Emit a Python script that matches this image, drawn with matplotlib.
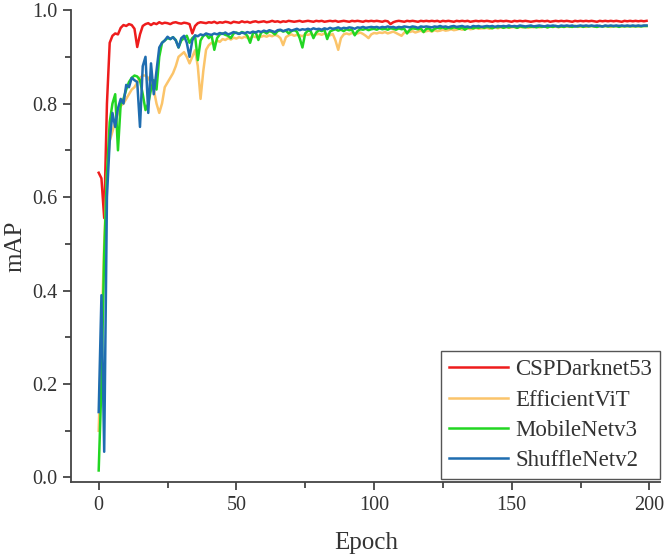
import matplotlib.pyplot as plt

labels = ['CSPDarknet53', 'EfficientViT', 'MobileNetv3', 'ShuffleNetv2']
colors = ['#ee1c1c', '#fbc46a', '#22d622', '#1f6db0']

csp = [
    0.652, 0.640, 0.555, 0.800, 0.930, 0.945, 0.950, 0.948, 0.962, 0.968,
    0.966, 0.970, 0.968, 0.960, 0.921, 0.948, 0.966, 0.970, 0.972, 0.968,
    0.972, 0.970, 0.974, 0.971, 0.973, 0.972, 0.970, 0.973, 0.974, 0.972,
    0.971, 0.973, 0.972, 0.970, 0.950, 0.966, 0.972, 0.974, 0.973, 0.972,
    0.974, 0.973, 0.975, 0.972, 0.974, 0.973, 0.975, 0.974, 0.972, 0.975,
    0.974, 0.973, 0.976, 0.974, 0.975, 0.973, 0.975, 0.976, 0.974, 0.975,
    0.976, 0.974, 0.975, 0.977, 0.975, 0.976, 0.974, 0.976, 0.975, 0.977,
    0.976, 0.975, 0.976, 0.977, 0.975, 0.976, 0.977, 0.976, 0.975, 0.977,
    0.976, 0.977, 0.975, 0.976, 0.977, 0.976, 0.977, 0.975, 0.976, 0.977,
    0.976, 0.975, 0.977, 0.976, 0.977, 0.976, 0.975, 0.977, 0.976, 0.977,
    0.976, 0.977, 0.976, 0.975, 0.977, 0.976, 0.970, 0.974, 0.976, 0.977,
    0.976, 0.975, 0.977, 0.976, 0.977, 0.976, 0.975, 0.977, 0.976, 0.977,
    0.976, 0.977, 0.976, 0.977, 0.975, 0.977, 0.976, 0.977, 0.976, 0.975,
    0.977, 0.976, 0.977, 0.976, 0.977, 0.975, 0.976, 0.977, 0.976, 0.977,
    0.976, 0.977, 0.976, 0.975, 0.977, 0.976, 0.977, 0.976, 0.977, 0.976,
    0.975, 0.977, 0.976, 0.977, 0.976, 0.977, 0.976, 0.975, 0.976, 0.977,
    0.976, 0.977, 0.976, 0.977, 0.975, 0.976, 0.977, 0.976, 0.977, 0.976,
    0.977, 0.976, 0.975, 0.977, 0.976, 0.977, 0.976, 0.977, 0.976, 0.977,
    0.976, 0.975, 0.977, 0.976, 0.977, 0.976, 0.977, 0.976, 0.977, 0.976,
    0.975, 0.977, 0.976, 0.977, 0.976, 0.977, 0.976, 0.977, 0.976, 0.977,
]

effvit = [
    0.100, 0.300, 0.500, 0.650, 0.720, 0.740, 0.760, 0.780, 0.795, 0.800,
    0.810, 0.820, 0.830, 0.835, 0.845, 0.855, 0.860, 0.860, 0.855, 0.845,
    0.830, 0.800, 0.780, 0.800, 0.835, 0.845, 0.855, 0.865, 0.880, 0.900,
    0.905, 0.910, 0.900, 0.886, 0.900, 0.914, 0.880, 0.810, 0.870, 0.915,
    0.925, 0.930, 0.928, 0.935, 0.932, 0.938, 0.936, 0.940, 0.937, 0.941,
    0.939, 0.942, 0.940, 0.943, 0.941, 0.940, 0.944, 0.942, 0.945, 0.943,
    0.945, 0.943, 0.946, 0.944, 0.947, 0.945, 0.940, 0.925, 0.942, 0.946,
    0.948, 0.945, 0.947, 0.946, 0.944, 0.948, 0.947, 0.949, 0.946, 0.948,
    0.949, 0.947, 0.950, 0.948, 0.946, 0.949, 0.935, 0.915, 0.940, 0.948,
    0.950, 0.948, 0.951, 0.949, 0.950, 0.952, 0.949, 0.945, 0.940, 0.948,
    0.951, 0.950, 0.952, 0.951, 0.953, 0.950, 0.952, 0.954, 0.951, 0.948,
    0.945, 0.952, 0.954, 0.953, 0.955, 0.952, 0.954, 0.956, 0.953, 0.955,
    0.956, 0.954, 0.957, 0.955, 0.956, 0.958, 0.956, 0.957, 0.959, 0.957,
    0.958, 0.960, 0.958, 0.959, 0.961, 0.959, 0.960, 0.962, 0.960, 0.961,
    0.961, 0.962, 0.960, 0.962, 0.963, 0.961, 0.963, 0.962, 0.964, 0.962,
    0.963, 0.964, 0.962, 0.964, 0.963, 0.964, 0.962, 0.964, 0.963, 0.965,
    0.963, 0.964, 0.965, 0.963, 0.965, 0.964, 0.965, 0.963, 0.965, 0.964,
    0.965, 0.964, 0.965, 0.966, 0.964, 0.965, 0.966, 0.964, 0.965, 0.966,
    0.965, 0.964, 0.966, 0.965, 0.966, 0.965, 0.964, 0.966, 0.965, 0.966,
    0.965, 0.966, 0.965, 0.966, 0.965, 0.966, 0.965, 0.966, 0.966, 0.966,
]

mobilenet = [
    0.015, 0.200, 0.480, 0.650, 0.760, 0.800, 0.820, 0.700, 0.800, 0.810,
    0.830, 0.846, 0.855, 0.860, 0.858, 0.850, 0.820, 0.786, 0.800, 0.830,
    0.850, 0.830, 0.900, 0.930, 0.935, 0.940, 0.938, 0.942, 0.936, 0.920,
    0.935, 0.940, 0.945, 0.930, 0.940, 0.945, 0.893, 0.935, 0.945, 0.948,
    0.940, 0.946, 0.915, 0.940, 0.948, 0.950, 0.947, 0.945, 0.940, 0.950,
    0.952, 0.949, 0.953, 0.951, 0.945, 0.930, 0.950, 0.953, 0.936, 0.952,
    0.954, 0.950, 0.955, 0.953, 0.948, 0.955, 0.957, 0.954, 0.956, 0.950,
    0.955, 0.957, 0.954, 0.940, 0.920, 0.950, 0.956, 0.955, 0.940, 0.952,
    0.957, 0.955, 0.958, 0.938, 0.954, 0.957, 0.959, 0.956, 0.958, 0.955,
    0.959, 0.957, 0.958, 0.946, 0.955, 0.959, 0.958, 0.960, 0.957, 0.959,
    0.960, 0.958, 0.961, 0.959, 0.960, 0.958, 0.961, 0.960, 0.958, 0.961,
    0.959, 0.960, 0.950, 0.958, 0.961, 0.960, 0.959, 0.961, 0.953, 0.960,
    0.961, 0.955, 0.960, 0.962, 0.961, 0.963, 0.960, 0.962, 0.961, 0.963,
    0.962, 0.960, 0.963, 0.958, 0.962, 0.963, 0.961, 0.963, 0.962, 0.964,
    0.962, 0.964, 0.963, 0.961, 0.964, 0.963, 0.965, 0.962, 0.964, 0.963,
    0.965, 0.964, 0.962, 0.965, 0.964, 0.963, 0.965, 0.964, 0.965, 0.963,
    0.965, 0.964, 0.965, 0.963, 0.965, 0.964, 0.966, 0.964, 0.965, 0.964,
    0.966, 0.965, 0.964, 0.966, 0.965, 0.966, 0.964, 0.966, 0.965, 0.966,
    0.965, 0.964, 0.966, 0.965, 0.966, 0.965, 0.966, 0.965, 0.966, 0.964,
    0.966, 0.965, 0.966, 0.965, 0.966, 0.965, 0.966, 0.965, 0.966, 0.966,
]

shufflenet = [
    0.140, 0.390, 0.055, 0.600, 0.720, 0.780, 0.750, 0.790, 0.810, 0.800,
    0.840, 0.835, 0.855, 0.850, 0.846, 0.750, 0.880, 0.900, 0.780, 0.886,
    0.820, 0.870, 0.920, 0.930, 0.935, 0.943, 0.938, 0.942, 0.935, 0.920,
    0.940, 0.945, 0.930, 0.900, 0.935, 0.946, 0.944, 0.948, 0.946, 0.950,
    0.948, 0.947, 0.950, 0.948, 0.951, 0.949, 0.952, 0.948, 0.950, 0.953,
    0.951, 0.949, 0.952, 0.950, 0.953, 0.951, 0.954, 0.952, 0.955, 0.953,
    0.956, 0.954, 0.957, 0.955, 0.953, 0.957, 0.958, 0.955, 0.957, 0.959,
    0.956, 0.958, 0.960, 0.957, 0.959, 0.958, 0.960, 0.958, 0.961, 0.959,
    0.960, 0.958, 0.961, 0.959, 0.962, 0.960, 0.961, 0.963, 0.960, 0.962,
    0.961, 0.963, 0.962, 0.960, 0.963, 0.962, 0.964, 0.962, 0.963, 0.964,
    0.963, 0.964, 0.962, 0.964, 0.963, 0.965, 0.963, 0.964, 0.962, 0.964,
    0.963, 0.965, 0.964, 0.963, 0.965, 0.964, 0.962, 0.965, 0.964, 0.965,
    0.964, 0.963, 0.965, 0.964, 0.966, 0.964, 0.965, 0.963, 0.965, 0.966,
    0.964, 0.965, 0.966, 0.964, 0.965, 0.963, 0.966, 0.965, 0.966, 0.964,
    0.965, 0.966, 0.965, 0.966, 0.964, 0.966, 0.965, 0.966, 0.965, 0.967,
    0.965, 0.966, 0.965, 0.967, 0.966, 0.965, 0.966, 0.967, 0.965, 0.966,
    0.967, 0.966, 0.965, 0.967, 0.966, 0.967, 0.966, 0.965, 0.967, 0.966,
    0.967, 0.966, 0.967, 0.965, 0.966, 0.967, 0.966, 0.967, 0.966, 0.967,
    0.966, 0.967, 0.966, 0.965, 0.967, 0.966, 0.967, 0.966, 0.967, 0.966,
    0.967, 0.966, 0.967, 0.966, 0.967, 0.966, 0.967, 0.966, 0.967, 0.967,
]

plt.rcParams['font.family'] = ['Liberation Serif', 'DejaVu Serif']

fig = plt.figure(figsize=(6.65, 5.6), dpi=100)
ax = fig.add_axes([0.107, 0.139, 0.886, 0.843])

for data, label, color in zip([csp, effvit, mobilenet, shufflenet], labels, colors):
    ax.plot(range(len(data)), data, color=color, lw=1.8, label=label)

ax.set_xlim(-10, 204)
ax.set_ylim(-0.01, 1.0)
ax.set_xticks([0, 50, 100, 150, 200])
ax.set_xticks([25, 75, 125, 175], minor=True)
ax.set_yticks([0.0, 0.2, 0.4, 0.6, 0.8, 1.0])
ax.set_yticks([0.1, 0.3, 0.5, 0.7, 0.9], minor=True)
ax.set_yticklabels(['0.0', '0.2', '0.4', '0.6', '0.8', '1.0'])

for side in ['top', 'right']:
    ax.spines[side].set_visible(False)
for side in ['left', 'bottom']:
    ax.spines[side].set_color('#444444')
    ax.spines[side].set_linewidth(1.3)
ax.tick_params(which='major', direction='out', length=6, width=1.3, color='#444444',
               labelsize=14.5, labelcolor='#333333', pad=4)
ax.tick_params(which='minor', direction='out', length=4, width=1.3, color='#444444')

ax.set_xlabel('Epoch', fontsize=18, color='#333333', labelpad=12)
ax.set_ylabel('mAP', fontsize=18, color='#333333')
ax.yaxis.set_label_coords(-0.076, 0.5)

leg = ax.legend(loc='lower right', bbox_to_anchor=(660 / 665, 81 / 560),
                bbox_transform=fig.transFigure, borderaxespad=0, fontsize=16.5,
                fancybox=False, edgecolor='#555555', framealpha=1,
                handlelength=2.6, handletextpad=0.3, labelspacing=0.4,
                borderpad=0.35)
leg.get_frame().set_linewidth(1.0)
for t in leg.get_texts():
    t.set_color('#333333')

plt.savefig('out.png', dpi=100)
